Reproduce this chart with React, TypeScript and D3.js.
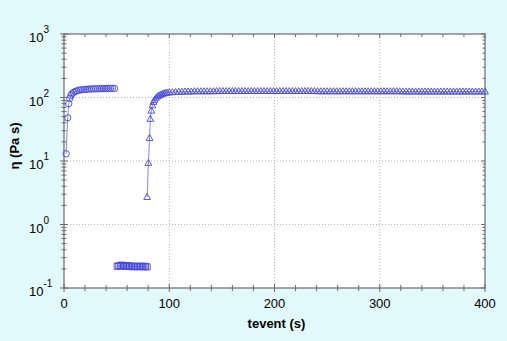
import * as d3 from "d3";

// recovery test: before shear (circles), high shear (squares), rebuild (triangles)
const circTime = [2, 3.5, 4.5, 5.5, 6.5, 7.5, 9, 10.5, 12, 14, 16, 18, 20, 22, 24, 26, 28, 30, 32, 34, 36, 38, 40, 42, 44, 46, 48];
const circEta = [13, 48, 80, 97, 107, 114, 120, 124, 127, 130, 132, 133, 134, 135, 136, 136, 137, 137, 137, 138, 138, 138, 138, 139, 139, 139, 139];

const sqTime = [50.5, 52, 53.5, 55, 56.5, 58, 59.5, 61, 62.5, 64, 65.5, 67, 68.5, 70, 71.5, 73, 74.5, 76, 77.5, 79];
const sqEta = [0.22, 0.225, 0.22, 0.23, 0.225, 0.22, 0.22, 0.225, 0.22, 0.22, 0.215, 0.22, 0.22, 0.22, 0.215, 0.22, 0.22, 0.215, 0.22, 0.215];

const triTime = [
  79, 80.2, 81.3, 82, 83, 84, 85, 86, 87.5, 89, 90.5, 92, 93.5, 95, 96.5, 98,
  100, 103, 106, 109, 112, 115, 118, 121, 124, 127, 130, 133, 136, 139, 142, 145, 148,
  151, 154, 157, 160, 163, 166, 169, 172, 175, 178, 181, 184, 187, 190, 193, 196, 199,
  202, 205, 208, 211, 214, 217, 220, 223, 226, 229, 232, 235, 238, 241, 244, 247, 250,
  253, 256, 259, 262, 265, 268, 271, 274, 277, 280, 283, 286, 289, 292, 295, 298, 301,
  304, 307, 310, 313, 316, 319, 322, 325, 328, 331, 334, 337, 340, 343, 346, 349, 352,
  355, 358, 361, 364, 367, 370, 373, 376, 379, 382, 385, 388, 391, 394, 397, 400,
];
const triEta = [
  2.7, 9.3, 23, 46, 62, 75, 85, 92, 99, 104, 108, 111, 114, 116, 118, 119,
  120, 121, 122, 123, 123, 124, 124, 124, 125, 125, 125, 125, 125, 125, 125, 126, 126,
  126, 126, 126, 126, 126, 126, 126, 126, 126, 126, 126, 126, 126, 126, 126, 126, 126,
  126, 126, 126, 126, 126, 126, 126, 126, 126, 126, 126, 126, 126, 125, 125, 125, 125,
  125, 125, 125, 125, 125, 125, 125, 125, 125, 125, 125, 125, 125, 125, 125, 125, 125,
  125, 125, 125, 125, 125, 125, 124, 124, 124, 124, 124, 124, 124, 124, 124, 124, 124,
  124, 124, 124, 124, 124, 124, 124, 124, 124, 124, 124, 124, 124, 124, 124, 124,
];

const xTicks = [0, 100, 200, 300, 400];
const yExps = [-1, 0, 1, 2, 3];

const W = 507;
const H = 341;
const margin = { top: 34, right: 22, bottom: 53, left: 64 };
const ink = "#4848dc";
const lineInk = "#8686ea";
const font = "'Liberation Sans', Arial, sans-serif";

export default function App() {
  const x = d3.scaleLinear().domain([0, 400]).range([margin.left, W - margin.right]);
  const y = d3.scaleLog().domain([0.1, 1000]).range([H - margin.bottom, margin.top]);
  const [x0, x1] = x.range();
  const [y0, y1] = y.range();

  const line = d3
    .line<[number, number]>()
    .x((d) => x(d[0]))
    .y((d) => y(d[1]));

  const circPts = circTime.map((t, i) => [t, circEta[i]] as [number, number]);
  const sqPts = sqTime.map((t, i) => [t, sqEta[i]] as [number, number]);
  const triPts = triTime.map((t, i) => [t, triEta[i]] as [number, number]);

  const minorX = d3.range(0, 401, 20);
  const minorY: number[] = [];
  for (let e = -1; e < 3; e++) {
    for (let k = 1; k < 10; k++) minorY.push(k * Math.pow(10, e));
  }
  minorY.push(1000);

  const tri = (cx: number, cy: number) =>
    `M${cx},${cy - 3.6}L${cx + 3.4},${cy + 2.4}L${cx - 3.4},${cy + 2.4}Z`;

  return (
    <svg width={W} height={H} style={{ position: "absolute", left: 0, top: 0 }}>
      <rect width={W} height={H} fill="#e2fafb" />
      <rect x={x0} y={y1} width={x1 - x0} height={y0 - y1} fill="#ffffff" />

      {/* grid */}
      <g stroke="#b4b4b4" strokeWidth={1} strokeDasharray="1,2">
        {[100, 200, 300].map((t) => (
          <line key={t} x1={x(t)} x2={x(t)} y1={y1} y2={y0} />
        ))}
        {[1, 10, 100].map((v) => (
          <line key={v} x1={x0} x2={x1} y1={y(v)} y2={y(v)} />
        ))}
      </g>

      {/* ticks */}
      <g stroke="#6a6a6a" strokeWidth={1}>
        {minorX.map((t) => {
          const major = t % 100 === 0;
          const l = major ? 4 : 3;
          return (
            <g key={t}>
              <line x1={x(t)} x2={x(t)} y1={y0 - l} y2={y0 + l} />
              <line x1={x(t)} x2={x(t)} y1={y1} y2={y1 + l} />
            </g>
          );
        })}
        {minorY.map((v) => {
          const major = Math.abs(Math.log10(v) - Math.round(Math.log10(v))) < 1e-6;
          const l = major ? 4 : 2.5;
          return (
            <g key={v}>
              <line x1={x0 - l} x2={x0 + l} y1={y(v)} y2={y(v)} />
              <line x1={x1 - l} x2={x1} y1={y(v)} y2={y(v)} />
            </g>
          );
        })}
      </g>

      {/* frame */}
      <rect x={x0} y={y1} width={x1 - x0} height={y0 - y1} fill="none" stroke="#6a6a6a" strokeWidth={1.2} />

      {/* data lines */}
      <g fill="none" stroke={lineInk} strokeWidth={1}>
        <path d={line(circPts) ?? ""} />
        <path d={line(sqPts) ?? ""} />
        <path d={line(triPts) ?? ""} />
      </g>

      {/* markers */}
      <g fill="none" stroke={ink} strokeWidth={0.9}>
        {circPts.map(([t, v], i) => (
          <circle key={"c" + i} cx={x(t)} cy={y(v)} r={3.2} />
        ))}
        {sqPts.map(([t, v], i) => (
          <rect key={"s" + i} x={x(t) - 3} y={y(v) - 3} width={6} height={6} />
        ))}
        {triPts.map(([t, v], i) => (
          <path key={"t" + i} d={tri(x(t), y(v))} />
        ))}
      </g>

      {/* tick labels */}
      <g fontFamily={font} fontSize={13} fill="#000">
        {xTicks.map((t) => (
          <text key={t} x={x(t)} y={y0 + 20} textAnchor="middle">
            {t}
          </text>
        ))}
        {yExps.map((e) => (
          <text key={e} x={x0 - 35} y={y(Math.pow(10, e)) + 8}>
            10
            <tspan fontSize={10} dy={-9}>
              {e}
            </tspan>
          </text>
        ))}
      </g>

      {/* axis titles */}
      <text
        x={x((x.domain()[0] + x.domain()[1]) / 2) + 2}
        y={y0 + 40}
        textAnchor="middle"
        fontFamily={font}
        fontSize={13}
        fontWeight="bold"
      >
        tevent (s)
      </text>
      <text
        transform={`translate(19,${146}) rotate(-90)`}
        textAnchor="middle"
        fontFamily={font}
        fontSize={13}
        fontWeight="bold"
      >
        η (Pa s)
      </text>
    </svg>
  );
}
